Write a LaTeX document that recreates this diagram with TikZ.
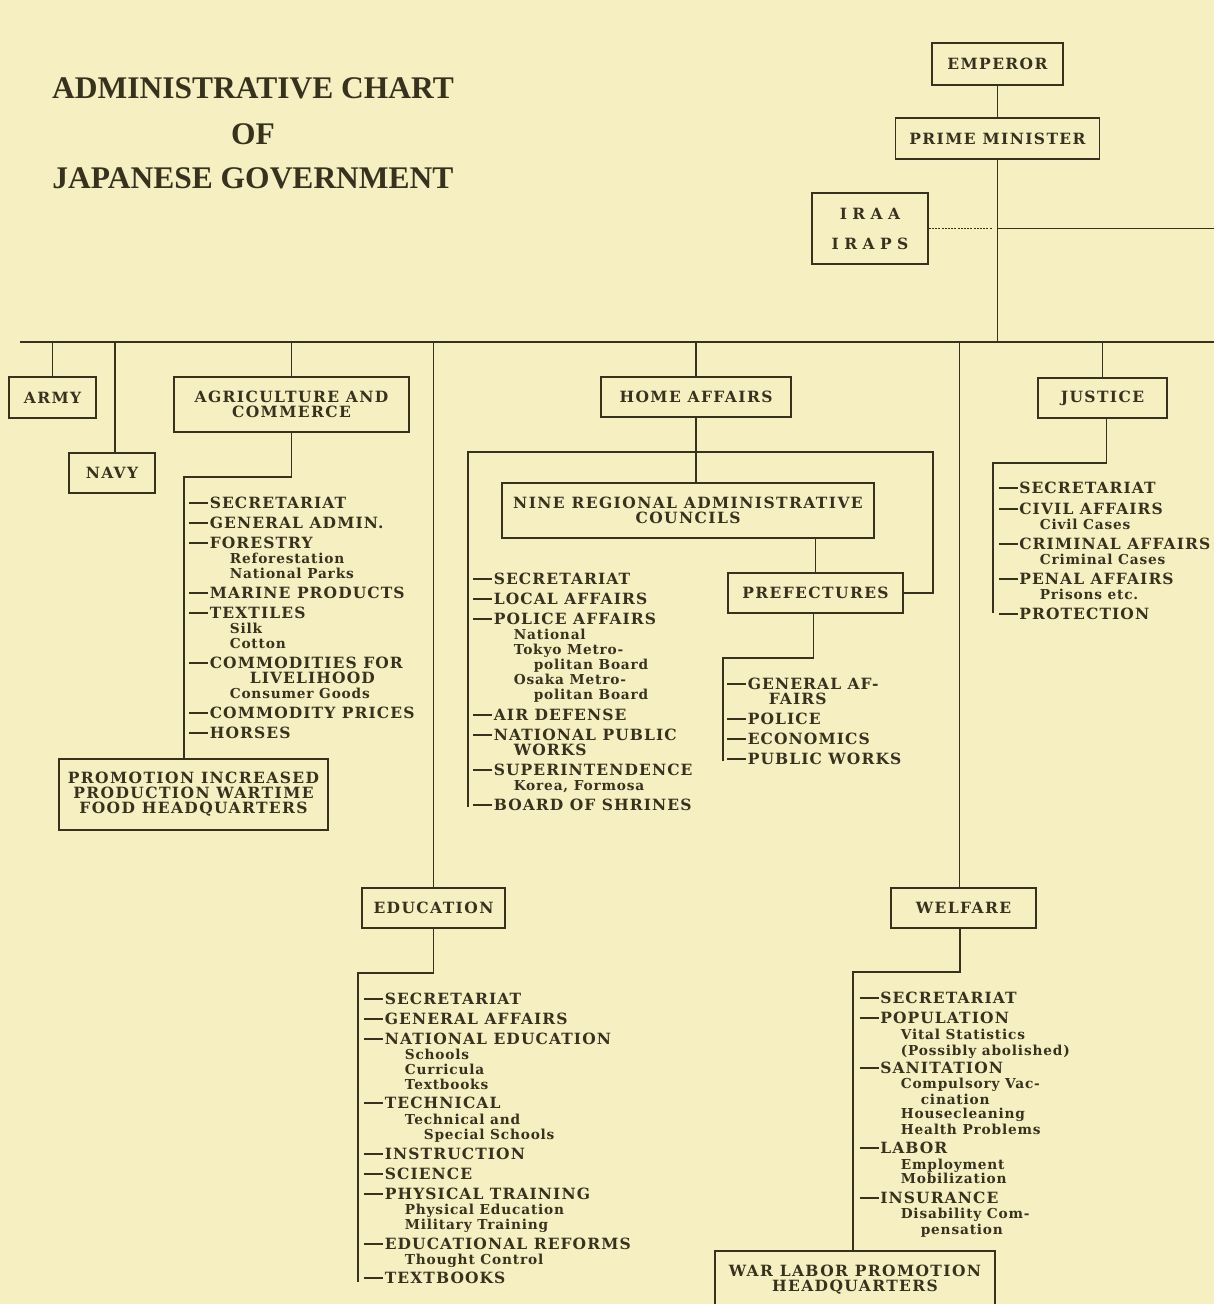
\documentclass[tikz,border=0pt]{standalone}
\usepackage{fontspec}
\setmainfont{DejaVu Serif}
\newfontfamily\titlefam{Liberation Serif}
\newfontfamily\headfam[LetterSpace=7]{DejaVu Serif}
\newfontfamily\boxfam[LetterSpace=9]{DejaVu Serif}
\newfontfamily\subfam[LetterSpace=6]{DejaVu Serif}
\newcommand\titlefont{\titlefam\bfseries\fontsize{31.5}{35}\selectfont}
\newcommand\headfont{\headfam\bfseries\fontsize{15.5}{17}\selectfont}
\newcommand\boxfont{\boxfam\bfseries\fontsize{15.5}{15}\selectfont}
\newcommand\subfont{\subfam\bfseries\fontsize{13.7}{15}\selectfont}
\newcommand\dash{\rule[4.5pt]{19pt}{1.6pt}\kern1.5pt}
\usetikzlibrary{positioning}
\definecolor{paper}{RGB}{246,239,194}
\definecolor{ink}{RGB}{55,50,30}

\begin{document}
\begin{tikzpicture}[x=1pt,y=-1pt,line width=1.6pt,color=ink,
  box/.style={draw,inner sep=0pt,align=center,font=\boxfont},
  head/.style={anchor=base west,inner sep=0pt,font=\headfont},
  sub/.style={anchor=base west,inner sep=0pt,font=\subfont},
  chart title/.style={anchor=base,inner sep=0pt,font=\titlefont}]
\fill[paper] (0,0) rectangle (1214,1304);
\clip (0,0) rectangle (1214,1304);

% title
\node[chart title] (title1) at (253,98.5) {ADMINISTRATIVE CHART};
\node[chart title] (title2) at (253,144) {OF};
\node[chart title] (title3) at (253,188.5) {JAPANESE GOVERNMENT};

% top of the chart
\node[box,minimum width=131pt,minimum height=42pt] (emperor) at (997.5,64) {EMPEROR};
\node[box,minimum width=204pt,minimum height=41pt] (pm) at (997.5,138.5) {PRIME MINISTER};
\node[box,minimum width=116pt,minimum height=71pt,font=\boxfont\addfontfeature{LetterSpace=35}] (iraa) at (870,228.5) {IRAA\\[15pt]IRAPS};
\coordinate (busL) at (20,342);
\coordinate (busR) at (1214,342);
\coordinate (partyR) at (1214,228.5);
\draw (emperor) -- (pm);
\draw (pm) -- (pm |- busL);
\draw (busL) -- (busR);
\draw[line width=1pt,dash pattern=on 2pt off 1.2pt,shorten >=5pt] (iraa.east) -- (pm.south |- iraa.east);
\draw (pm.south |- iraa.east) -- (partyR);

% ministries
\node[box,minimum width=87pt,minimum height=41pt] (army) at (52.5,397.5) {ARMY};
\node[box,minimum width=86pt,minimum height=40pt] (navy) at (112,473) {NAVY};
\node[box,minimum width=235pt,minimum height=55pt] (agri) at (291.5,404.5) {AGRICULTURE AND\\COMMERCE};
\node[box,minimum width=190pt,minimum height=40pt] (home) at (696,397) {HOME AFFAIRS};
\node[box,minimum width=129pt,minimum height=40pt] (justice) at (1102.5,398) {JUSTICE};
\node[box,minimum width=143pt,minimum height=40pt] (edu) at (433.5,908) {EDUCATION};
\node[box,minimum width=145pt,minimum height=40pt] (welfare) at (963.5,908) {WELFARE};
\foreach \m in {army,agri,home,justice,edu}
  \draw (\m.north) -- (\m.north |- busL);
\draw ([xshift=3pt]navy.north) -- ([xshift=3pt]navy.north |- busL);
\draw ([xshift=-4pt]welfare.north) -- ([xshift=-4pt]welfare.north |- busL);

% agriculture and commerce
\node[box,minimum width=269pt,minimum height=71pt] (promo) at (193.5,794.5) {PROMOTION INCREASED\\PRODUCTION WARTIME\\FOOD HEADQUARTERS};
\coordinate (agriT) at (184,477);
\draw (agri.south) |- (agriT) -- (agriT |- promo.north);
\foreach \y/\t in {508/SECRETARIAT,528/GENERAL ADMIN.,548/FORESTRY,598/MARINE PRODUCTS,618/TEXTILES,668/COMMODITIES FOR,718/COMMODITY PRICES,738/HORSES}
  \node[head] (agri-\y) at (188.5,\y) {\dash\t};
\node[head] (agri-683) at (249,683) {LIVELIHOOD};
\foreach \y/\t in {563/Reforestation,578/National Parks,633/Silk,648/Cotton,698/Consumer Goods}
  \node[sub] (agri-\y) at (229,\y) {\t};

% home affairs
\node[box,minimum width=372pt,minimum height=55pt] (nine) at (688,510.5) {NINE REGIONAL ADMINISTRATIVE\\COUNCILS};
\node[box,minimum width=175pt,minimum height=40pt] (pref) at (815.5,593) {PREFECTURES};
\coordinate (homeL) at (468,452);
\coordinate (homeR) at (933,452);
\coordinate (homeB) at (468,807);
\draw (home.south) -- (home.south |- nine.north);
\draw (homeB) -- (homeL) -- (homeR) |- (pref.east);
\draw (nine.south -| pref.north) -- (pref.north);
\foreach \y/\t in {584/SECRETARIAT,604/LOCAL AFFAIRS,624/POLICE AFFAIRS,720/AIR DEFENSE,740/NATIONAL PUBLIC,775/SUPERINTENDENCE,810/BOARD OF SHRINES}
  \node[head] (home-\y) at (472.5,\y) {\dash\t};
\node[head] (home-755) at (513,755) {WORKS};
\foreach \y/\t in {639/National,654/Tokyo Metro-,684/Osaka Metro-,790/{Korea, Formosa}}
  \node[sub] (home-\y) at (513,\y) {\t};
\foreach \y/\t in {669/politan Board,699/politan Board}
  \node[sub] (home-\y) at (533,\y) {\t};

% prefectures
\coordinate (prefT) at (723,658);
\coordinate (prefB) at (723,761);
\draw ([xshift=-2pt]pref.south) |- (prefT) -- (prefB);
\foreach \y/\t in {689/GENERAL AF-,724/POLICE,744/ECONOMICS,764/PUBLIC WORKS}
  \node[head] (pref-\y) at (726.5,\y) {\dash\t};
\node[head] (pref-704) at (768,704) {FAIRS};

% justice
\coordinate (justT) at (993,463);
\coordinate (justB) at (993,613);
\draw ([xshift=4pt]justice.south) |- (justT) -- (justB);
\foreach \y/\t in {493/SECRETARIAT,514/CIVIL AFFAIRS,549/CRIMINAL AFFAIRS,584/PENAL AFFAIRS,619/PROTECTION}
  \node[head] (just-\y) at (998,\y) {\dash\t};
\foreach \y/\t in {529/Civil Cases,564/Criminal Cases,599/Prisons etc.}
  \node[sub] (just-\y) at (1039,\y) {\t};

% education
\coordinate (eduT) at (358,973);
\coordinate (eduB) at (358,1282);
\draw (edu.south) |- (eduT) -- (eduB);
\foreach \y/\t in {1004/SECRETARIAT,1024/GENERAL AFFAIRS,1044/NATIONAL EDUCATION,1108/TECHNICAL,1159/INSTRUCTION,1179/SCIENCE,1199/PHYSICAL TRAINING,1249/EDUCATIONAL REFORMS,1283/TEXTBOOKS}
  \node[head] (edu-\y) at (363.5,\y) {\dash\t};
\foreach \y/\t in {1059/Schools,1074/Curricula,1089/Textbooks,1124/Technical and,1214/Physical Education,1229/Military Training,1264/Thought Control}
  \node[sub] (edu-\y) at (404,\y) {\t};
\node[sub] (edu-1139) at (423,1139) {Special Schools};

% welfare
\node[box,minimum width=280pt,minimum height=58pt] (warlabor) at (855,1280) {WAR LABOR PROMOTION\\HEADQUARTERS};
\coordinate (welT) at (853,972);
\draw ([xshift=-3.5pt]welfare.south) |- (welT) -- (welT |- warlabor.north);
\foreach \y/\t in {1003/SECRETARIAT,1023/POPULATION,1073/SANITATION,1153/LABOR,1203/INSURANCE}
  \node[head] (wel-\y) at (859,\y) {\dash\t};
\foreach \y/\t in {1039/Vital Statistics,1055/(Possibly abolished),1088/Compulsory Vac-,1118/Housecleaning,1134/Health Problems,1169/Employment,1183/Mobilization,1218/Disability Com-}
  \node[sub] (wel-\y) at (900,\y) {\t};
\foreach \y/\t in {1104/cination,1234/pensation}
  \node[sub] (wel-\y) at (920,\y) {\t};
\end{tikzpicture}
\end{document}
